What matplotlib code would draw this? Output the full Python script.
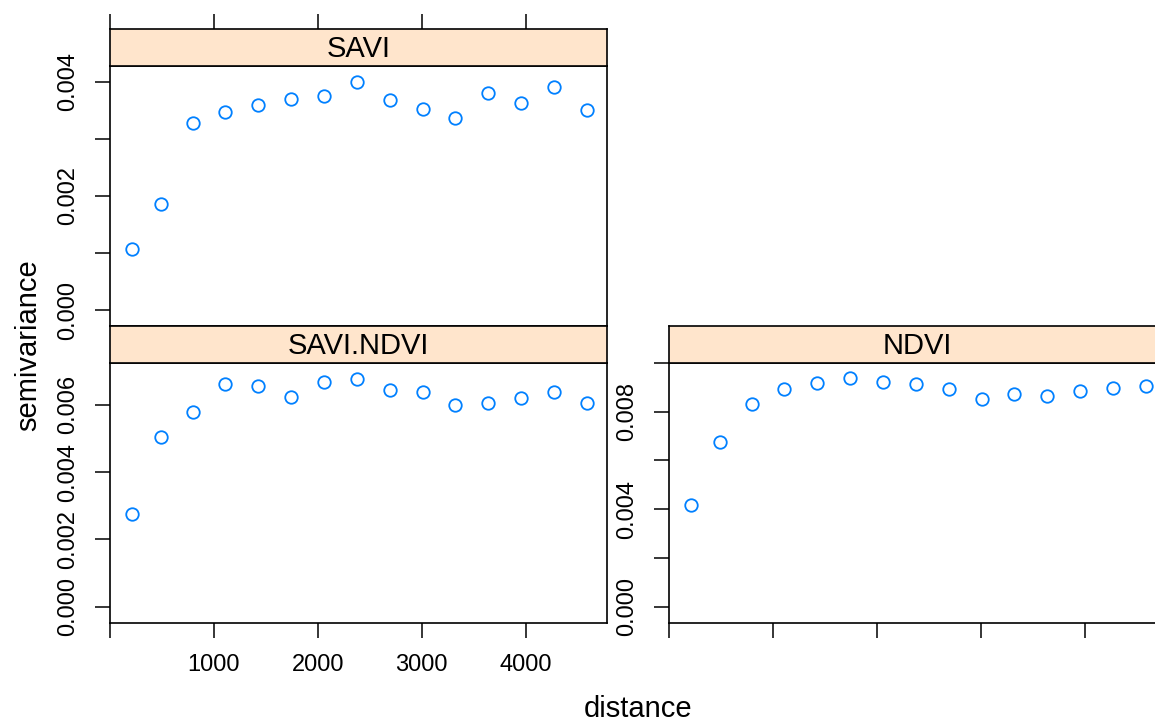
import matplotlib.pyplot as plt

plt.rcParams['font.family'] = ['Liberation Sans', 'DejaVu Sans']

# datos (variogramas)
distance = [209, 487, 798, 1110, 1426, 1741, 2057, 2376, 2692, 3008, 3323, 3639, 3954, 4270, 4586]
savi = [0.001063, 0.001857, 0.003270, 0.003474, 0.003585, 0.003702, 0.003749, 0.003994,
        0.003685, 0.003515, 0.003364, 0.003801, 0.003620, 0.003901, 0.003509]
savi_ndvi = [0.002743, 0.005030, 0.005792, 0.006614, 0.006545, 0.006228, 0.006663, 0.006752,
             0.006436, 0.006376, 0.005980, 0.006059, 0.006208, 0.006386, 0.006059]
ndvi = [0.004192, 0.006749, 0.008302, 0.008948, 0.009182, 0.009375, 0.009237, 0.009155,
        0.008935, 0.008509, 0.008715, 0.008646, 0.008852, 0.008962, 0.009045]

xticks = [0, 1000, 2000, 3000, 4000]
xlabels = ['', '1000', '2000', '3000', '4000']
savi_yticks = [0.000, 0.001, 0.002, 0.003, 0.004]
savi_ylabels = ['0.000', '', '0.002', '', '0.004']
sn_yticks = [0.000, 0.002, 0.004, 0.006]
sn_ylabels = ['0.000', '0.002', '0.004', '0.006']
ndvi_yticks = [0.000, 0.002, 0.004, 0.006, 0.008, 0.010]
ndvi_ylabels = ['0.000', '', '0.004', '', '0.008', '']

W, H = 1155, 724
col_pt = '#0080ff'
strip_col = '#ffe5cc'
xlim = (0, 4783)

fig = plt.figure(figsize=(W / 100, H / 100), dpi=100)

def rect(x0, y0, x1, y1):  # pixeles -> coordenadas de figura
    return [x0 / W, 1 - y1 / H, (x1 - x0) / W, (y1 - y0) / H]

def panel(x0, ytop, name, vals, ylim, yticks, ylabels, xlab, top_ticks, bottom_ticks):
    ax = fig.add_axes(rect(x0, ytop + 37, x0 + 497, ytop + 297))
    ax.plot(distance, vals, 'o', mfc='none', mec=col_pt, ms=9, mew=1.3, clip_on=False)
    ax.set_xlim(xlim)
    ax.set_ylim(ylim)
    ax.set_yticks(yticks)
    ax.set_yticklabels(ylabels, rotation=90, va='center')
    ax.set_xticks(xticks)
    ax.set_xticklabels(xlabels if xlab else [''] * len(xticks))
    ax.tick_params(axis='both', direction='out', length=11, width=1.1, labelsize=17, pad=11)
    ax.tick_params(axis='x', bottom=bottom_ticks, labelbottom=xlab)
    for s in ax.spines.values():
        s.set_linewidth(1.2)
    st = fig.add_axes(rect(x0, ytop, x0 + 497, ytop + 37))
    st.set_facecolor(strip_col)
    st.set_xlim(xlim)
    st.set_yticks([])
    st.set_xticks(xticks)
    st.tick_params(axis='x', bottom=False, labelbottom=False, top=top_ticks, labeltop=False,
                   direction='out', length=11, width=1.1)
    for s in st.spines.values():
        s.set_linewidth(1.2)
    st.text(0.5, 0.45, name, transform=st.transAxes, ha='center', va='center', fontsize=21)
    return ax

panel(110, 29, 'SAVI', savi, (-0.00028, 0.004275), savi_yticks, savi_ylabels, False, True, False)
panel(110, 326, 'SAVI.NDVI', savi_ndvi, (-0.00048, 0.00724), sn_yticks, sn_ylabels, True, False, True)
panel(669, 326, 'NDVI', ndvi, (-0.00067, 0.0100), ndvi_yticks, ndvi_ylabels, False, False, True)

fig.text(638 / W, 7 / H, 'distance', ha='center', va='baseline', fontsize=21)
fig.text(28 / W, 1 - 345 / H, 'semivariance', ha='center', va='center', rotation=90, fontsize=21)

fig.savefig('out.png', dpi=100)
